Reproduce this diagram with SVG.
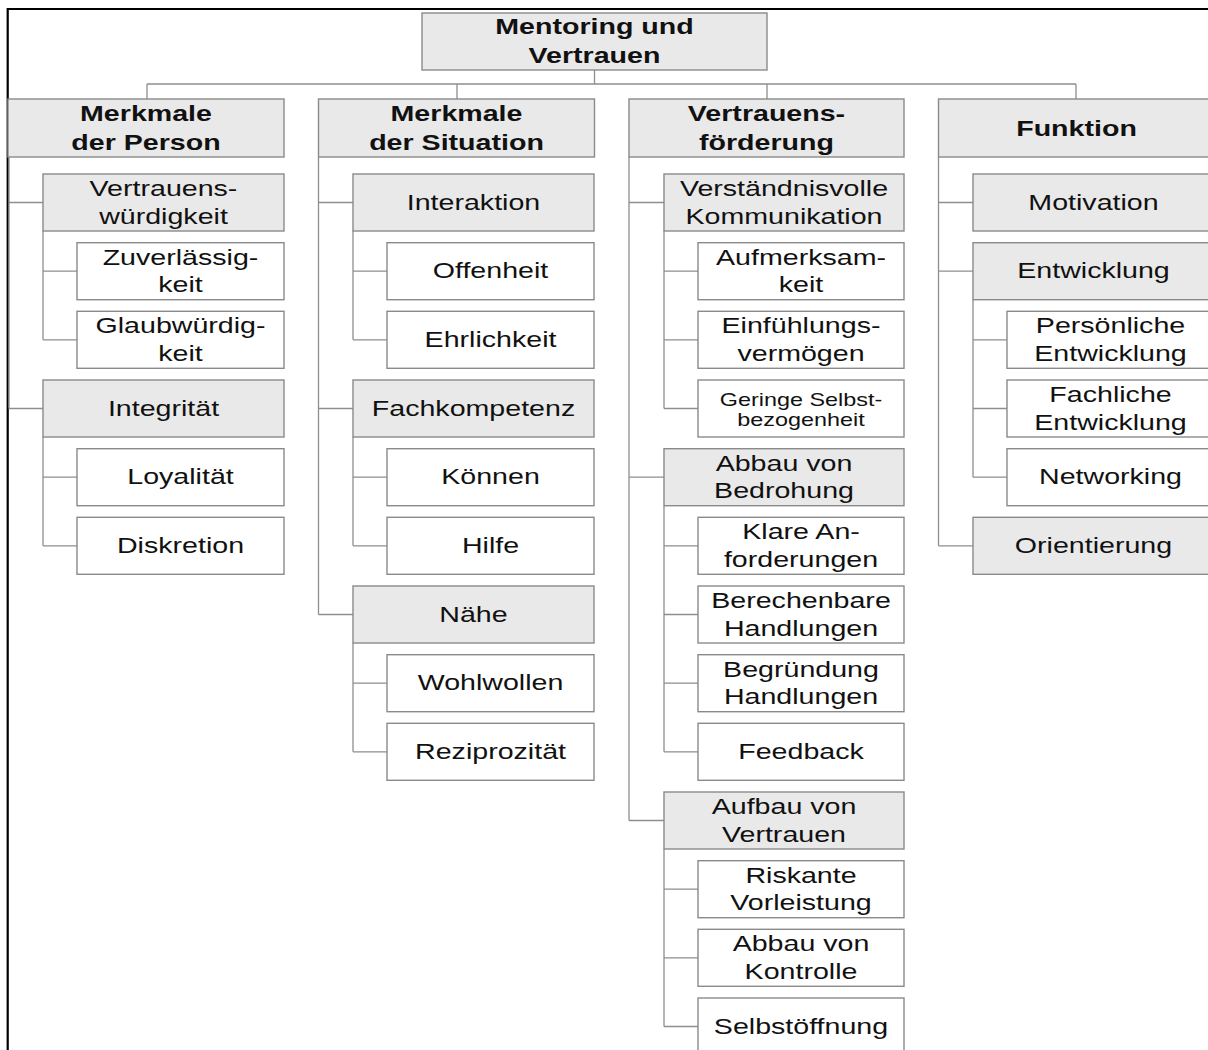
<svg xmlns="http://www.w3.org/2000/svg" width="1208" height="1050" viewBox="0 0 1208 1050">
<style>
.g{fill:#e9e9e9;stroke:#8a8a8a;stroke-width:1.4}
.w{fill:#ffffff;stroke:#8a8a8a;stroke-width:1.4}
.t{font-family:"Liberation Sans",Arial,sans-serif;font-size:22px;fill:#111;text-anchor:middle}
.b{font-weight:bold}
.s{font-size:18px}
.c{fill:none;stroke:#8e8e8e;stroke-width:1.3}
.f{fill:none;stroke:#000;stroke-width:2.2}
</style>
<rect width="1208" height="1050" fill="#fff"/>
<path class="f" d="M7.7,1050 V9 H1208"/>
<g id="connectors">
<path class="c" d="M594.5,70 V84 M147,84 H1076 M147,84 V99 M457,84 V99 M767,84 V99 M1076,84 V99"/>
<path class="c" d="M9,157 V408.5 M9,202.5 H43 M9,408.5 H43"/>
<path class="c" d="M43,231 V339.8 M43,271.2 H77 M43,339.8 H77"/>
<path class="c" d="M43,437 V545.8 M43,477.2 H77 M43,545.8 H77"/>
<path class="c" d="M318.5,157 V614.5 M318.5,202.5 H353 M318.5,408.5 H353 M318.5,614.5 H353"/>
<path class="c" d="M353,231 V339.8 M353,271.2 H387 M353,339.8 H387"/>
<path class="c" d="M353,437 V545.8 M353,477.2 H387 M353,545.8 H387"/>
<path class="c" d="M353,643 V751.8 M353,683.2 H387 M353,751.8 H387"/>
<path class="c" d="M629,157 V820.5 M629,202.5 H664 M629,477.2 H664 M629,820.5 H664"/>
<path class="c" d="M664,231 V408.5 M664,271.2 H698 M664,339.8 H698 M664,408.5 H698"/>
<path class="c" d="M664,505.7 V751.8 M664,545.8 H698 M664,614.5 H698 M664,683.2 H698 M664,751.8 H698"/>
<path class="c" d="M664,849 V1026.5 M664,889.2 H698 M664,957.8 H698 M664,1026.5 H698"/>
<path class="c" d="M938.5,157 V545.8 M938.5,202.5 H973 M938.5,271.2 H973 M938.5,545.8 H973"/>
<path class="c" d="M973,299.7 V477.2 M973,339.8 H1007 M973,408.5 H1007 M973,477.2 H1007"/>
</g>

<g id="root"><rect class="g" x="422" y="13" width="345" height="57"/>
<text class="t b" transform="translate(594.5,34) scale(1.3,1)">Mentoring und</text>
<text class="t b" transform="translate(594.5,63) scale(1.3,1)">Vertrauen</text></g>

<g id="c1"><rect class="g" x="8" y="99" width="276" height="58"/>
<text class="t b" transform="translate(146,120.7) scale(1.3,1)">Merkmale</text>
<text class="t b" transform="translate(146,150) scale(1.3,1)">der Person</text></g>
<g id="c2"><rect class="g" x="318.5" y="99" width="276" height="58"/>
<text class="t b" transform="translate(456.5,120.7) scale(1.3,1)">Merkmale</text>
<text class="t b" transform="translate(456.5,150) scale(1.3,1)">der Situation</text></g>
<g id="c3"><rect class="g" x="629" y="99" width="275" height="58"/>
<text class="t b" transform="translate(766.5,120.7) scale(1.3,1)">Vertrauens-</text>
<text class="t b" transform="translate(766.5,150) scale(1.3,1)">förderung</text></g>
<g id="c4"><rect class="g" x="938.5" y="99" width="276" height="58"/>
<text class="t b" transform="translate(1076.5,135.5) scale(1.3,1)">Funktion</text></g>

<g id="n_vw"><rect class="g" x="43" y="174" width="241" height="57"/>
<text class="t" transform="translate(163.5,196) scale(1.3,1)">Vertrauens-</text>
<text class="t" transform="translate(163.5,223.5) scale(1.3,1)">würdigkeit</text></g>
<g id="n_zu"><rect class="w" x="77" y="242.7" width="207" height="57"/>
<text class="t" transform="translate(180.5,264.7) scale(1.3,1)">Zuverlässig-</text>
<text class="t" transform="translate(180.5,292.2) scale(1.3,1)">keit</text></g>
<g id="n_gl"><rect class="w" x="77" y="311.3" width="207" height="57"/>
<text class="t" transform="translate(180.5,333.3) scale(1.3,1)">Glaubwürdig-</text>
<text class="t" transform="translate(180.5,360.8) scale(1.3,1)">keit</text></g>
<g id="n_in"><rect class="g" x="43" y="380" width="241" height="57"/>
<text class="t" transform="translate(163.5,415.5) scale(1.3,1)">Integrität</text></g>
<g id="n_lo"><rect class="w" x="77" y="448.7" width="207" height="57"/>
<text class="t" transform="translate(180.5,484.2) scale(1.3,1)">Loyalität</text></g>
<g id="n_di"><rect class="w" x="77" y="517.3" width="207" height="57"/>
<text class="t" transform="translate(180.5,552.8) scale(1.3,1)">Diskretion</text></g>

<g id="n_ia"><rect class="g" x="353" y="174" width="241" height="57"/>
<text class="t" transform="translate(473.5,209.5) scale(1.3,1)">Interaktion</text></g>
<g id="n_of"><rect class="w" x="387" y="242.7" width="207" height="57"/>
<text class="t" transform="translate(490.5,278.2) scale(1.3,1)">Offenheit</text></g>
<g id="n_eh"><rect class="w" x="387" y="311.3" width="207" height="57"/>
<text class="t" transform="translate(490.5,346.5) scale(1.3,1)">Ehrlichkeit</text></g>
<g id="n_fk"><rect class="g" x="353" y="380" width="241" height="57"/>
<text class="t" transform="translate(473.5,415.5) scale(1.3,1)">Fachkompetenz</text></g>
<g id="n_ko"><rect class="w" x="387" y="448.7" width="207" height="57"/>
<text class="t" transform="translate(490.5,484.2) scale(1.3,1)">Können</text></g>
<g id="n_hi"><rect class="w" x="387" y="517.3" width="207" height="57"/>
<text class="t" transform="translate(490.5,552.8) scale(1.3,1)">Hilfe</text></g>
<g id="n_na"><rect class="g" x="353" y="586" width="241" height="57"/>
<text class="t" transform="translate(473.5,621.5) scale(1.3,1)">Nähe</text></g>
<g id="n_wo"><rect class="w" x="387" y="654.7" width="207" height="57"/>
<text class="t" transform="translate(490.5,690.2) scale(1.3,1)">Wohlwollen</text></g>
<g id="n_re"><rect class="w" x="387" y="723.3" width="207" height="57"/>
<text class="t" transform="translate(490.5,758.8) scale(1.3,1)">Reziprozität</text></g>

<g id="n_vk"><rect class="g" x="664" y="174" width="240" height="57"/>
<text class="t" transform="translate(784,196) scale(1.3,1)">Verständnisvolle</text>
<text class="t" transform="translate(784,223.5) scale(1.3,1)">Kommunikation</text></g>
<g id="n_au"><rect class="w" x="698" y="242.7" width="206" height="57"/>
<text class="t" transform="translate(801,264.7) scale(1.3,1)">Aufmerksam-</text>
<text class="t" transform="translate(801,292.2) scale(1.3,1)">keit</text></g>
<g id="n_ei"><rect class="w" x="698" y="311.3" width="206" height="57"/>
<text class="t" transform="translate(801,333.3) scale(1.3,1)">Einfühlungs-</text>
<text class="t" transform="translate(801,360.8) scale(1.3,1)">vermögen</text></g>
<g id="n_gs"><rect class="w" x="698" y="380" width="206" height="57"/>
<text class="t s" transform="translate(801,405.5) scale(1.3,1)">Geringe Selbst-</text>
<text class="t s" transform="translate(801,426) scale(1.3,1)">bezogenheit</text></g>
<g id="n_ab"><rect class="g" x="664" y="448.7" width="240" height="57"/>
<text class="t" transform="translate(784,470.5) scale(1.3,1)">Abbau von</text>
<text class="t" transform="translate(784,498) scale(1.3,1)">Bedrohung</text></g>
<g id="n_kl"><rect class="w" x="698" y="517.3" width="206" height="57"/>
<text class="t" transform="translate(801,539.3) scale(1.3,1)">Klare An-</text>
<text class="t" transform="translate(801,566.8) scale(1.3,1)">forderungen</text></g>
<g id="n_be"><rect class="w" x="698" y="586" width="206" height="57"/>
<text class="t" transform="translate(801,608) scale(1.3,1)">Berechenbare</text>
<text class="t" transform="translate(801,635.5) scale(1.3,1)">Handlungen</text></g>
<g id="n_bg"><rect class="w" x="698" y="654.7" width="206" height="57"/>
<text class="t" transform="translate(801,676.7) scale(1.3,1)">Begründung</text>
<text class="t" transform="translate(801,704.2) scale(1.3,1)">Handlungen</text></g>
<g id="n_fe"><rect class="w" x="698" y="723.3" width="206" height="57"/>
<text class="t" transform="translate(801,758.8) scale(1.3,1)">Feedback</text></g>
<g id="n_av"><rect class="g" x="664" y="792" width="240" height="57"/>
<text class="t" transform="translate(784,814) scale(1.3,1)">Aufbau von</text>
<text class="t" transform="translate(784,841.5) scale(1.3,1)">Vertrauen</text></g>
<g id="n_ri"><rect class="w" x="698" y="860.7" width="206" height="57"/>
<text class="t" transform="translate(801,882.7) scale(1.3,1)">Riskante</text>
<text class="t" transform="translate(801,910.2) scale(1.3,1)">Vorleistung</text></g>
<g id="n_ak"><rect class="w" x="698" y="929.3" width="206" height="57"/>
<text class="t" transform="translate(801,951.3) scale(1.3,1)">Abbau von</text>
<text class="t" transform="translate(801,978.8) scale(1.3,1)">Kontrolle</text></g>
<g id="n_so"><rect class="w" x="698" y="998" width="206" height="57"/>
<text class="t" transform="translate(801,1033.5) scale(1.3,1)">Selbstöffnung</text></g>

<g id="n_mo"><rect class="g" x="973" y="174" width="241" height="57"/>
<text class="t" transform="translate(1093.5,209.5) scale(1.3,1)">Motivation</text></g>
<g id="n_en"><rect class="g" x="973" y="242.7" width="241" height="57"/>
<text class="t" transform="translate(1093.5,278.2) scale(1.3,1)">Entwicklung</text></g>
<g id="n_pe"><rect class="w" x="1007" y="311.3" width="207" height="57"/>
<text class="t" transform="translate(1110.5,333.3) scale(1.3,1)">Persönliche</text>
<text class="t" transform="translate(1110.5,360.8) scale(1.3,1)">Entwicklung</text></g>
<g id="n_fa"><rect class="w" x="1007" y="380" width="207" height="57"/>
<text class="t" transform="translate(1110.5,402) scale(1.3,1)">Fachliche</text>
<text class="t" transform="translate(1110.5,429.5) scale(1.3,1)">Entwicklung</text></g>
<g id="n_ne"><rect class="w" x="1007" y="448.7" width="207" height="57"/>
<text class="t" transform="translate(1110.5,484.2) scale(1.3,1)">Networking</text></g>
<g id="n_or"><rect class="g" x="973" y="517.3" width="241" height="57"/>
<text class="t" transform="translate(1093.5,552.8) scale(1.3,1)">Orientierung</text></g>
</svg>
